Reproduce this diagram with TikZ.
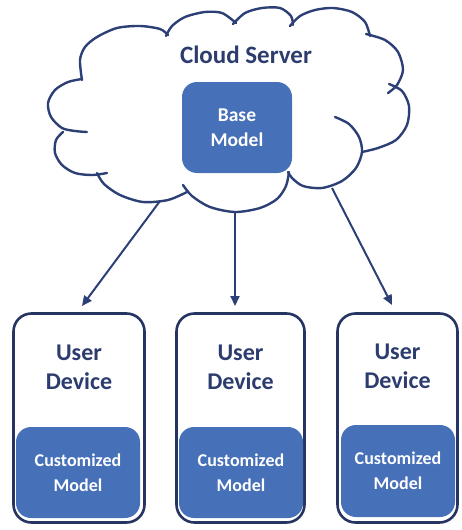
\documentclass[tikz,border=0pt]{standalone}
\usepackage{fontspec}
\setmainfont{Carlito}
\usetikzlibrary{arrows.meta}
\definecolor{navy}{RGB}{38,52,98}
\definecolor{cloudline}{RGB}{44,64,118}
\definecolor{boxblue}{RGB}{70,112,184}
\definecolor{txtnavy}{RGB}{44,60,110}
\begin{document}
\begin{tikzpicture}[x=1pt,y=-1pt,
  lobe/.style={draw=cloudline, line width=2.4pt, line cap=round},
  device/.style={draw=navy, line width=2.6pt, rounded corners=18pt, minimum height=209pt, inner sep=0pt},
  inner/.style={fill=boxblue, rounded corners=15pt, text=white, font=\bfseries\fontsize{18}{25}\selectfont, align=center, inner sep=0pt},
  label/.style={text=txtnavy, font=\bfseries\fontsize{24}{29}\selectfont, align=center},
  conn/.style={draw=cloudline, line width=2pt, -{Triangle[length=10pt,width=9pt]}}]
\useasboundingbox (0,0) rectangle (462,530);
% cloud
\draw[lobe] plot[smooth] coordinates {(82,80) (80,60) (85,47) (97,37) (117,28) (140,26) (160,29) (168,35)};
\draw[lobe] plot[smooth] coordinates {(166,36) (172,26) (185,17) (205,12) (222,13) (236,23)};
\draw[lobe] plot[smooth] coordinates {(233,24) (245,13) (262,8) (280,8) (291,16) (293,25)};
\draw[lobe] plot[smooth] coordinates {(290,26) (300,16) (315,10) (333,8) (352,12) (365,22) (370,36)};
\draw[lobe] plot[smooth] coordinates {(366,34) (385,40) (398,52) (403,70) (397,85) (388,93)};
\draw[lobe] plot[smooth] coordinates {(389,84) (402,91) (409,106) (407,125) (396,140) (378,148) (362,152)};
\draw[lobe] plot[smooth] coordinates {(335,117) (349,124) (359,137) (362,152) (356,168) (342,181) (322,188) (303,186) (292,178) (288,172)};
\draw[lobe] plot[smooth] coordinates {(289,172) (286,186) (277,199) (260,208) (235,212) (210,207) (192,196) (183,185)};
\draw[lobe] plot[smooth] coordinates {(187,192) (168,200) (143,202) (120,195) (104,184) (97,173)};
\draw[lobe] plot[smooth] coordinates {(63,132) (56,140) (55,153) (62,165) (75,173) (92,175) (107,173)};
\draw[lobe] plot[smooth] coordinates {(82,79) (68,82) (55,90) (48,103) (51,117) (62,128) (75,131) (87,132)};
\node[label, font=\bfseries\fontsize{25}{30}\selectfont] (cloudtitle) at (246,55) {Cloud Server};
\node[inner, minimum width=110pt, minimum height=91pt, font=\bfseries\fontsize{19.5}{25}\selectfont] (base) at (237,127.5) {Base\\Model};
% devices
\node[device, minimum width=131pt] (dev1) at (79,418) {};
\node[device, minimum width=128pt] (dev2) at (240.5,418) {};
\node[device, minimum width=120pt] (dev3) at (397.5,418) {};
\node[label] (lab1) at (79,367) {User\\Device};
\node[label] (lab2) at (240.5,367) {User\\Device};
\node[label] (lab3) at (397.5,366) {User\\Device};
\node[inner, minimum width=124pt, minimum height=91pt] (cm1) at (78,472.5) {Customized\\Model};
\node[inner, minimum width=124pt, minimum height=91pt] (cm2) at (241,472.5) {Customized\\Model};
\node[inner, minimum width=114pt, minimum height=92pt] (cm3) at (398,471) {Customized\\Model};
% arrows
\coordinate (a1s) at (160,201);
\coordinate (a1e) at (82,306);
\coordinate (a2s) at (235,213);
\coordinate (a2e) at (235,306);
\coordinate (a3s) at (332,188);
\coordinate (a3e) at (392,305);
\draw[conn] (a1s) -- (a1e);
\draw[conn] (a2s) -- (a2e);
\draw[conn] (a3s) -- (a3e);
\end{tikzpicture}
\end{document}
